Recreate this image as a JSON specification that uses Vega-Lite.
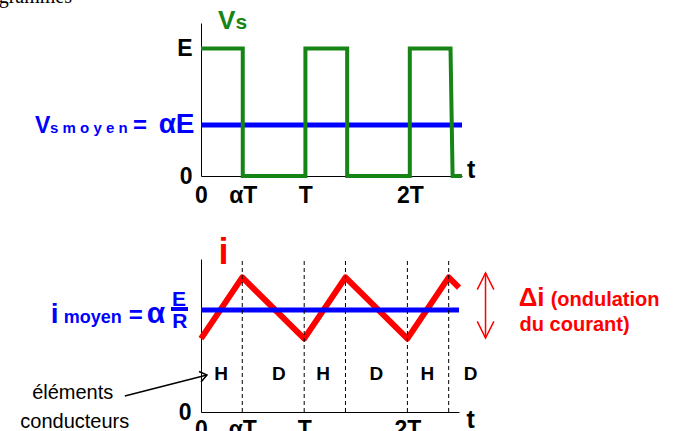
{
  "$schema": "https://vega.github.io/schema/vega-lite/v6.json",
  "background": "white",
  "padding": {"left": -62, "top": -14, "right": 0, "bottom": 0},
  "bounds": "flush",
  "spacing": 83,
  "config": {"view": {"stroke": null}, "font": "Liberation Sans"},
  "datasets": {
    "vs": [{"i":0,"t":0,"v":1},{"i":1,"t":0.4,"v":1},{"i":2,"t":0.4,"v":0},{"i":3,"t":1,"v":0},{"i":4,"t":1,"v":1},{"i":5,"t":1.4,"v":1},{"i":6,"t":1.4,"v":0},{"i":7,"t":2,"v":0},{"i":8,"t":2,"v":1},{"i":9,"t":2.39,"v":1},{"i":10,"t":2.41,"v":0},{"i":11,"t":2.5,"v":0}],
    "meanTop": [{"t":0,"v":0.4},{"t":2.5,"v":0.4}],
    "topV": [{"label":"V","t":-1.59,"v":0.337}],
    "topMoyen": [{"label":"s m o y e n","t":-1.446,"v":0.337}],
    "topEq": [{"label":"=","t":-0.651,"v":0.337}],
    "topAE": [{"label":"αE","t":-0.062,"v":0.337}],
    "titleV": [{"label":"V","t":0.163,"v":1.153}],
    "titleS": [{"label":"s","t":0.33,"v":1.153}],
    "tTop": [{"label":"t","t":2.548,"v":-0.016}],
    "heading": [{"label":"Chronogrammes","t":-1.236,"v":1.36}],
    "iwave": [{"i":0,"t":0,"v":0.72},{"i":1,"t":0.4,"v":1.32},{"i":2,"t":1,"v":0.72},{"i":3,"t":1.4,"v":1.32},{"i":4,"t":2,"v":0.72},{"i":5,"t":2.4,"v":1.32},{"i":6,"t":2.5,"v":1.22}],
    "meanBot": [{"t":0,"v":1},{"t":2.5,"v":1}],
    "dashes": [{"t":0.4,"v":0,"v2":1.5},{"t":1,"v":0,"v2":1.5},{"t":1.4,"v":0,"v2":1.5},{"t":2,"v":0,"v2":1.5},{"t":2.4,"v":0,"v2":1.5}],
    "hd": [{"label":"H","t":0.194,"v":0.314},{"label":"D","t":0.754,"v":0.314},{"label":"H","t":1.184,"v":0.314},{"label":"D","t":1.699,"v":0.314},{"label":"H","t":2.194,"v":0.314},{"label":"D","t":2.612,"v":0.314}],
    "iTitle": [{"label":"i","t":0.218,"v":1.451}],
    "botI": [{"label":"i","t":-1.456,"v":0.873}],
    "botMoyen": [{"label":"moyen","t":-1.33,"v":0.873}],
    "botEq": [{"label":"=","t":-0.7,"v":0.873}],
    "botAlpha": [{"label":"α","t":-0.525,"v":0.873}],
    "botFrac": [{"label":"E","t":-0.214,"v":1.039},{"label":"R","t":-0.204,"v":0.824}],
    "fracBar": [{"t":-0.291,"t2":-0.126,"v":1.01}],
    "tBot": [{"label":"t","t":2.573,"v":-0.157}],
    "arrowRed": [{"g":"shaft","i":0,"t":2.757,"v":0.725},{"g":"shaft","i":1,"t":2.757,"v":1.363},{"g":"top","i":0,"t":2.677,"v":1.199},{"g":"top","i":1,"t":2.757,"v":1.363},{"g":"top","i":2,"t":2.838,"v":1.199},{"g":"bot","i":0,"t":2.677,"v":0.889},{"g":"bot","i":1,"t":2.757,"v":0.725},{"g":"bot","i":2,"t":2.838,"v":0.889}],
    "deltaI": [{"label":"Δi","t":3.078,"v":1.039}],
    "ondul": [{"label":"(ondulation","t":3.388,"v":1.039},{"label":"du courant)","t":3.087,"v":0.794}],
    "elements": [{"label":"éléments","t":-1.243,"v":0.127},{"label":"conducteurs","t":-1.223,"v":-0.157}],
    "arrowBlack": [{"g":"shaft","i":0,"t":-0.738,"v":0.157},{"g":"shaft","i":1,"t":0.058,"v":0.363},{"g":"head","i":0,"t":-0.019,"v":0.397},{"g":"head","i":1,"t":0.058,"v":0.363},{"g":"head","i":2,"t":0.0,"v":0.294}]
  },
  "vconcat": [
    {
      "width": 261,
      "height": 153,
      "encoding": {
        "x": {"field": "t", "type": "quantitative", "scale": {"domain": [0, 2.5], "nice": false, "zero": false},
          "axis": {"values": [0, 0.4, 1, 2], "labelExpr": "datum.value == 0 ? '0' : datum.value == 0.4 ? 'αT' : datum.value == 1 ? 'T' : '2T'", "title": null, "grid": false, "ticks": false, "tickSize": 0, "labelPadding": 8, "labelFont": "Liberation Sans", "labelFontSize": 23, "labelFontWeight": "bold", "labelColor": "black", "domainColor": "black", "labelFlush": false, "labelOverlap": false}},
        "y": {"field": "v", "type": "quantitative", "scale": {"domain": [0, 1.2], "nice": false, "zero": false},
          "axis": {"values": [0, 1], "labelExpr": "datum.value == 0 ? '0' : 'E'", "title": null, "grid": false, "ticks": false, "tickSize": 0, "labelPadding": 9, "labelFont": "Liberation Sans", "labelFontSize": 23, "labelFontWeight": "bold", "labelColor": "black", "domainColor": "black", "labelFlush": false, "labelOverlap": false}}
      },
      "layer": [
        {"data": {"name": "meanTop"}, "mark": {"type": "line", "color": "#0000ff", "strokeWidth": 5}},
        {"data": {"name": "vs"}, "mark": {"type": "line", "color": "#168516", "strokeWidth": 4, "strokeJoin": "miter"}, "encoding": {"order": {"field": "i"}}},
        {"data": {"name": "topV"}, "mark": {"type": "text", "align": "left", "baseline": "alphabetic", "fontSize": 23, "fontWeight": "bold", "color": "#0000ff"}, "encoding": {"text": {"field": "label"}}},
        {"data": {"name": "topMoyen"}, "mark": {"type": "text", "align": "left", "baseline": "alphabetic", "fontSize": 15, "fontWeight": "bold", "color": "#0000ff"}, "encoding": {"text": {"field": "label"}}},
        {"data": {"name": "topEq"}, "mark": {"type": "text", "align": "left", "baseline": "alphabetic", "fontSize": 24, "fontWeight": "bold", "color": "#0000ff"}, "encoding": {"text": {"field": "label"}}},
        {"data": {"name": "topAE"}, "mark": {"type": "text", "align": "right", "baseline": "alphabetic", "fontSize": 28, "fontWeight": "bold", "color": "#0000ff"}, "encoding": {"text": {"field": "label"}}},
        {"data": {"name": "titleV"}, "mark": {"type": "text", "align": "left", "baseline": "alphabetic", "fontSize": 26, "fontWeight": "bold", "color": "#168516"}, "encoding": {"text": {"field": "label"}}},
        {"data": {"name": "titleS"}, "mark": {"type": "text", "align": "left", "baseline": "alphabetic", "fontSize": 21, "fontWeight": "bold", "color": "#168516"}, "encoding": {"text": {"field": "label"}}},
        {"data": {"name": "tTop"}, "mark": {"type": "text", "align": "left", "baseline": "alphabetic", "fontSize": 25, "fontWeight": "bold", "color": "black"}, "encoding": {"text": {"field": "label"}}},
        {"data": {"name": "heading"}, "mark": {"type": "text", "align": "right", "baseline": "alphabetic", "fontSize": 20, "font": "Liberation Serif", "color": "black"}, "encoding": {"text": {"field": "label"}}}
      ]
    },
    {
      "width": 258,
      "height": 153,
      "encoding": {
        "x": {"field": "t", "type": "quantitative", "scale": {"domain": [0, 2.5], "nice": false, "zero": false},
          "axis": {"values": [0, 0.4, 1, 2], "labelExpr": "datum.value == 0 ? '0' : datum.value == 0.4 ? 'αT' : datum.value == 1 ? 'T' : '2T'", "title": null, "grid": false, "ticks": false, "tickSize": 0, "labelPadding": 6, "labelFont": "Liberation Sans", "labelFontSize": 23, "labelFontWeight": "bold", "labelColor": "black", "domainColor": "black", "labelFlush": false, "labelOverlap": false}},
        "y": {"field": "v", "type": "quantitative", "scale": {"domain": [0, 1.5], "nice": false, "zero": false},
          "axis": {"values": [0], "labelExpr": "'0'", "title": null, "grid": false, "ticks": false, "tickSize": 0, "labelPadding": 10, "labelFont": "Liberation Sans", "labelFontSize": 23, "labelFontWeight": "bold", "labelColor": "black", "domainColor": "black", "labelFlush": false, "labelOverlap": false}}
      },
      "layer": [
        {"data": {"name": "iwave"}, "mark": {"type": "line", "color": "#ff0000", "strokeWidth": 6, "strokeJoin": "round"}, "encoding": {"order": {"field": "i"}}},
        {"data": {"name": "meanBot"}, "mark": {"type": "line", "color": "#0000ff", "strokeWidth": 5}},
        {"data": {"name": "dashes"}, "mark": {"type": "rule", "color": "black", "strokeWidth": 1, "strokeDash": [4, 3]}, "encoding": {"y2": {"field": "v2"}}},
        {"data": {"name": "hd"}, "mark": {"type": "text", "align": "center", "baseline": "alphabetic", "fontSize": 19, "fontWeight": "bold", "color": "black"}, "encoding": {"text": {"field": "label"}}},
        {"data": {"name": "iTitle"}, "mark": {"type": "text", "align": "center", "baseline": "alphabetic", "fontSize": 36, "fontWeight": "bold", "color": "#ff0000"}, "encoding": {"text": {"field": "label"}}},
        {"data": {"name": "botI"}, "mark": {"type": "text", "align": "left", "baseline": "alphabetic", "fontSize": 28, "fontWeight": "bold", "color": "#0000ff"}, "encoding": {"text": {"field": "label"}}},
        {"data": {"name": "botMoyen"}, "mark": {"type": "text", "align": "left", "baseline": "alphabetic", "fontSize": 18, "fontWeight": "bold", "color": "#0000ff"}, "encoding": {"text": {"field": "label"}}},
        {"data": {"name": "botEq"}, "mark": {"type": "text", "align": "left", "baseline": "alphabetic", "fontSize": 24, "fontWeight": "bold", "color": "#0000ff"}, "encoding": {"text": {"field": "label"}}},
        {"data": {"name": "botAlpha"}, "mark": {"type": "text", "align": "left", "baseline": "alphabetic", "fontSize": 30, "fontWeight": "bold", "color": "#0000ff"}, "encoding": {"text": {"field": "label"}}},
        {"data": {"name": "botFrac"}, "mark": {"type": "text", "align": "center", "baseline": "alphabetic", "fontSize": 21, "fontWeight": "bold", "color": "#0000ff"}, "encoding": {"text": {"field": "label"}}},
        {"data": {"name": "fracBar"}, "mark": {"type": "rule", "color": "#0000ff", "strokeWidth": 4}, "encoding": {"x2": {"field": "t2"}}},
        {"data": {"name": "tBot"}, "mark": {"type": "text", "align": "left", "baseline": "alphabetic", "fontSize": 25, "fontWeight": "bold", "color": "black"}, "encoding": {"text": {"field": "label"}}},
        {"data": {"name": "arrowRed"}, "mark": {"type": "line", "color": "#ff0000", "strokeWidth": 1.5}, "encoding": {"detail": {"field": "g"}, "order": {"field": "i"}}},
        {"data": {"name": "deltaI"}, "mark": {"type": "text", "align": "left", "baseline": "alphabetic", "fontSize": 26, "fontWeight": "bold", "color": "#ff0000"}, "encoding": {"text": {"field": "label"}}},
        {"data": {"name": "ondul"}, "mark": {"type": "text", "align": "left", "baseline": "alphabetic", "fontSize": 20, "fontWeight": "bold", "color": "#ff0000"}, "encoding": {"text": {"field": "label"}}},
        {"data": {"name": "elements"}, "mark": {"type": "text", "align": "center", "baseline": "alphabetic", "fontSize": 20, "color": "black"}, "encoding": {"text": {"field": "label"}}},
        {"data": {"name": "arrowBlack"}, "mark": {"type": "line", "color": "black", "strokeWidth": 1.5}, "encoding": {"detail": {"field": "g"}, "order": {"field": "i"}}}
      ]
    }
  ]
}
